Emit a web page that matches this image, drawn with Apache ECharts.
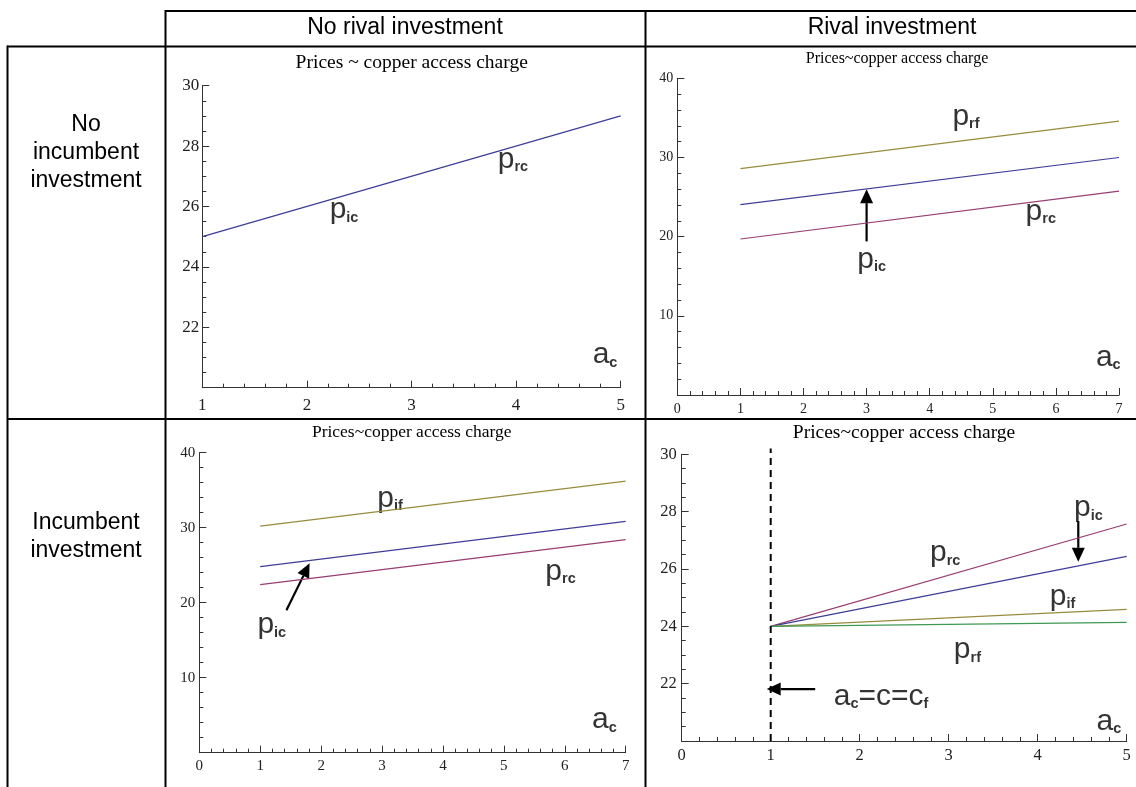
<!DOCTYPE html>
<html><head><meta charset="utf-8">
<script src="https://cdn.jsdelivr.net/npm/echarts@6/dist/echarts.min.js"></script>
<style>html,body{margin:0;padding:0;background:#fff}#c{width:1136px;height:787px}</style>
</head><body><div id="c"></div>
<script>
// ---------- text ----------
const colHeaders = ['No rival investment', 'Rival investment'];
const rowHeaders = ['No\nincumbent\ninvestment', 'Incumbent\ninvestment'];
const panelTitles = ['Prices ~ copper access charge', 'Prices~copper access charge',
                     'Prices~copper access charge', 'Prices~copper access charge'];

// ---------- panel 1: no incumbent / no rival investment ----------
const p1X = [1, 5];
const p1Pic = [25, 29];
const p1Labels = [[3.97, 27.54, 'p_rc'], [2.355, 25.88, 'p_ic'], [4.85, 21.08, 'a_c']];
const p1Arrows = [];

// ---------- panel 2: no incumbent / rival investment ----------
const p2X = [1, 7];
const p2Prf = [28.6, 34.6];
const p2Pic = [24.05, 30.0];
const p2Prc = [19.7, 25.75];
const p2Labels = [[4.575, 35.2, 'p_rf'], [5.76, 23.2, 'p_rc'], [3.08, 17.1, 'p_ic'], [6.83, 4.7, 'a_c']];
const p2Arrows = [[3.0, 19.4, 3.0, 26.0]];

// ---------- panel 3: incumbent / no rival investment ----------
const p3X = [1, 7];
const p3Pif = [30.2, 36.2];
const p3Pic = [24.8, 30.85];
const p3Prc = [22.4, 28.4];
const p3Labels = [[3.13, 33.9, 'p_if'], [5.93, 24.13, 'p_rc'], [1.19, 17.0, 'p_ic'], [6.65, 4.36, 'a_c']];
const p3Arrows = [[1.43, 19.0, 1.81, 25.25]];

// ---------- panel 4: incumbent / rival investment ----------
const p4X = [1, 5];
const p4Prc = [24, 27.57];
const p4Pic = [24, 26.44];
const p4Pif = [24, 24.59];
const p4Prf = [24, 24.14];
const p4Dash = [[1, 20], [1, 30.2]];
const p4Labels = [[4.57, 28.12, 'p_ic'], [2.96, 26.55, 'p_rc'], [4.28, 25.03, 'p_if'],
                  [3.21, 23.17, 'p_rf'], [2.24, 21.55, 'a_c=c=c_f'], [4.80, 20.67, 'a_c']];
const p4Arrows = [[4.456, 27.67, 4.456, 26.25], [1.5, 21.81, 0.955, 21.81]];

// ---------- styling ----------
const C_BLUE = '#3d3d99', C_MAG = '#993d71', C_OLIVE = '#998b3d', C_GREEN = '#3d9954';
const SERIF = '"Liberation Serif", "DejaVu Serif", serif';
const SANS = '"Liberation Sans", Arial, Helvetica, sans-serif';

const panels = [
  { grid: {left: 202.3, top: 85.7, width: 418.4, height: 302},
    x: {min: 1, max: 5, interval: 1, minor: 5}, y: {min: 20, max: 30, interval: 2, minor: 4},
    tickFont: 17, xMargin: 9, yMargin: 3, title: [411.7, 63, 19.5] },
  { grid: {left: 677.3, top: 78.3, width: 441.7, height: 316.7},
    x: {min: 0, max: 7, interval: 1, minor: 5}, y: {min: 0, max: 40, interval: 10, minor: 5},
    tickFont: 14, xMargin: 7, yMargin: 4, title: [897, 59, 16] },
  { grid: {left: 199.3, top: 452.7, width: 426.4, height: 300},
    x: {min: 0, max: 7, interval: 1, minor: 5}, y: {min: 0, max: 40, interval: 10, minor: 5},
    tickFont: 15, xMargin: 6, yMargin: 4, title: [411.7, 432, 17.5] },
  { grid: {left: 681.7, top: 454.3, width: 445, height: 286.7},
    x: {min: 0, max: 5, interval: 1, minor: 5}, y: {min: 20, max: 30, interval: 2, minor: 4},
    tickFont: 16.5, xMargin: 6, yMargin: 5, title: [904, 433, 19.5] }
];

function pairs(xs, ys) { return xs.map((x, i) => [x, ys[i]]); }

function axisCommon(p, isX) {
  const a = isX ? p.x : p.y;
  return {
    type: 'value', min: a.min, max: a.max, interval: a.interval,
    axisLine: {show: true, onZero: false, lineStyle: {color: '#333', width: 1}},
    axisTick: {show: true, inside: true, length: 7, lineStyle: {color: '#333'}},
    minorTick: {show: true, splitNumber: a.minor, length: 4, lineStyle: {color: '#333'}},
    splitLine: {show: false},
    axisLabel: {fontFamily: SERIF, fontSize: p.tickFont, color: '#222',
                margin: isX ? p.xMargin : p.yMargin,
                showMinLabel: isX ? true : false}
  };
}

function lineSeries(gi, data, color, extra) {
  return Object.assign({
    type: 'line', xAxisIndex: gi, yAxisIndex: gi, data: data,
    showSymbol: false, symbol: 'none', silent: true, animation: false,
    lineStyle: {color: color, width: 1.2}
  }, extra || {});
}

function richText(s) {
  const re = /_([a-z]+)|([^_]+)/g; let m, out = '';
  while ((m = re.exec(s)) !== null) {
    if (m[1]) out += '{s|' + m[1] + '}'; else out += '{m|' + m[2] + '}';
  }
  return out;
}

function labelSeries(gi, labels) {
  return {
    type: 'scatter', xAxisIndex: gi, yAxisIndex: gi, silent: true, animation: false,
    symbolSize: 1, itemStyle: {color: 'rgba(0,0,0,0)'},
    data: labels.map(l => ({value: [l[0], l[1]], name: l[2]})),
    label: {
      show: true, position: 'inside',
      formatter: p => richText(p.name),
      rich: {
        m: {fontFamily: SANS, fontSize: 30, color: '#000', lineHeight: 32},
        s: {fontFamily: SANS, fontSize: 14.5, fontWeight: 'bold', color: '#000', padding: [15, 0, 0, 0], lineHeight: 32}
      }
    }
  };
}

function arrowSeries(gi, arrows) {
  return {
    type: 'custom', xAxisIndex: gi, yAxisIndex: gi, silent: true, animation: false, clip: false,
    data: arrows,
    encode: {x: [0, 2], y: [1, 3]},
    renderItem: function (params, api) {
      const a = api.coord([api.value(0), api.value(1)]);
      const b = api.coord([api.value(2), api.value(3)]);
      const dx = b[0] - a[0], dy = b[1] - a[1];
      const L = Math.hypot(dx, dy), ux = dx / L, uy = dy / L;
      const hl = 14, hw = 6.5;
      const base = [b[0] - ux * hl, b[1] - uy * hl];
      return {type: 'group', children: [
        {type: 'line', shape: {x1: a[0], y1: a[1], x2: base[0], y2: base[1]},
         style: {stroke: '#000', lineWidth: 2.2}},
        {type: 'polygon', shape: {points: [b, [base[0] - uy * hw, base[1] + ux * hw], [base[0] + uy * hw, base[1] - ux * hw]]},
         style: {fill: '#000'}}
      ]};
    }
  };
}

const series = [
  lineSeries(0, pairs(p1X, p1Pic), C_BLUE),
  labelSeries(0, p1Labels),

  lineSeries(1, pairs(p2X, p2Prf), C_OLIVE),
  lineSeries(1, pairs(p2X, p2Pic), C_BLUE),
  lineSeries(1, pairs(p2X, p2Prc), C_MAG),
  labelSeries(1, p2Labels),
  arrowSeries(1, p2Arrows),

  lineSeries(2, pairs(p3X, p3Pif), C_OLIVE),
  lineSeries(2, pairs(p3X, p3Pic), C_BLUE),
  lineSeries(2, pairs(p3X, p3Prc), C_MAG),
  labelSeries(2, p3Labels),
  arrowSeries(2, p3Arrows),

  lineSeries(3, pairs(p4X, p4Prc), C_MAG),
  lineSeries(3, pairs(p4X, p4Pic), C_BLUE),
  lineSeries(3, pairs(p4X, p4Pif), C_OLIVE),
  lineSeries(3, pairs(p4X, p4Prf), C_GREEN),
  lineSeries(3, p4Dash, '#000', {clip: false, lineStyle: {color: '#000', width: 2, type: [7, 5]}}),
  labelSeries(3, p4Labels),
  arrowSeries(3, p4Arrows)
];

// ---------- table frame and headers (graphic) ----------
const LW = 2;
function hline(x1, x2, y) { return {type: 'line', silent: true, shape: {x1, y1: y, x2, y2: y}, style: {stroke: '#000', lineWidth: LW}}; }
function vline(x, y1, y2) { return {type: 'line', silent: true, shape: {x1: x, y1, x2: x, y2}, style: {stroke: '#000', lineWidth: LW}}; }
function txt(t, x, y, size, font, lh) {
  return {type: 'text', silent: true, x: x, y: y,
          style: {text: t, fontFamily: font, fontSize: size, fill: '#000', align: 'center', verticalAlign: 'middle', lineHeight: lh || size * 1.2}};
}

const graphics = [
  hline(165.5, 1136, 11), hline(7, 1136, 46.5), hline(7, 1136, 419),
  vline(7.5, 45.5, 787), vline(165.5, 10, 787), vline(645.5, 10, 787),
  txt(colHeaders[0], 405, 28, 23, SANS), txt(colHeaders[1], 892, 28, 23, SANS),
  txt(rowHeaders[0], 86, 153, 23, SANS, 28), txt(rowHeaders[1], 86, 537, 23, SANS, 28)
];
panels.forEach((p, i) => graphics.push(txt(panelTitles[i], p.title[0], p.title[1], p.title[2], SERIF)));

const chart = echarts.init(document.getElementById('c'), null, {renderer: 'canvas'});
chart.setOption({
  animation: false,
  backgroundColor: '#fff',
  grid: panels.map(p => Object.assign({containLabel: false}, p.grid)),
  xAxis: panels.map((p, i) => Object.assign({gridIndex: i, position: 'bottom'}, axisCommon(p, true))),
  yAxis: panels.map((p, i) => Object.assign({gridIndex: i, position: 'left'}, axisCommon(p, false))),
  series: series,
  graphic: graphics
});
</script></body></html>
